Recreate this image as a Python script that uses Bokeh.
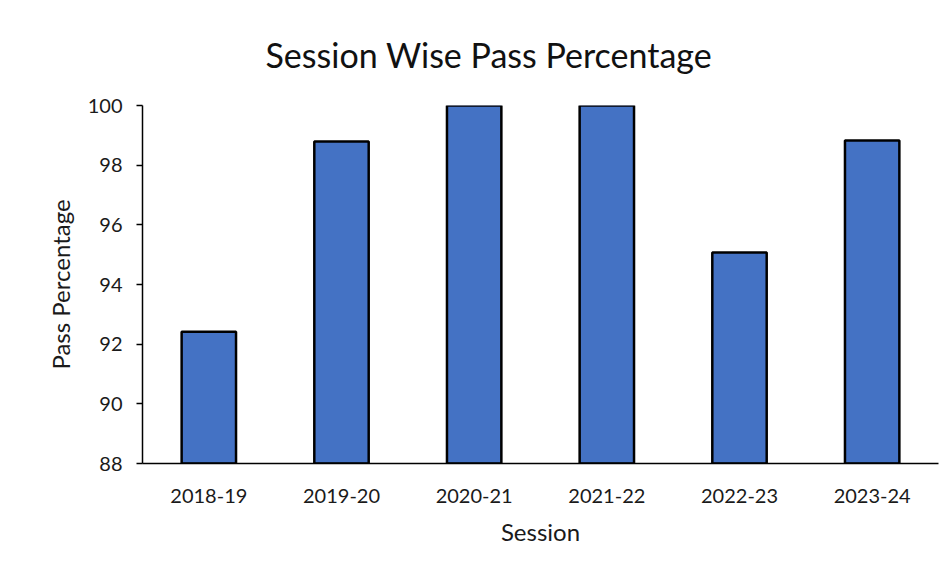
from bokeh.plotting import figure
from bokeh.models import Range1d, FixedTicker, ColumnDataSource
from bokeh.embed import file_html
from bokeh.resources import INLINE

sessions = ["2018-19", "2019-20", "2020-21", "2021-22", "2022-23", "2023-24"]
pass_pct = [92.42, 98.79, 100.0, 100.0, 95.07, 98.83]
y_ticks = [88, 90, 92, 94, 96, 98, 100]
title_text = "Session Wise Pass Percentage"

FONT = "Lato"
src = ColumnDataSource(dict(session=sessions, pct=pass_pct))

p = figure(x_range=sessions, y_range=Range1d(88, 100),
           width=943, height=563, output_backend="svg", toolbar_location=None,
           title=title_text,
           min_border_left=142, min_border_right=5, min_border_top=105, min_border_bottom=100)

p.vbar(x="session", top="pct", bottom=88, width=0.41, source=src,
       fill_color="#4472C4", line_color="black", line_width=2.5)

p.title.align = "left"
p.title.vertical_align = "top"
p.title.text_font = FONT
p.title.text_font_size = "34px"
p.title.text_font_style = "normal"
p.title.text_color = "#111111"
p.title.standoff = 58
p.title.offset = 123

p.outline_line_color = None
p.xgrid.grid_line_color = None
p.ygrid.grid_line_color = None
p.x_range.range_padding = 0

p.yaxis.ticker = FixedTicker(ticks=y_ticks)
p.yaxis.minor_tick_line_color = None
p.yaxis.major_tick_out = 6
p.yaxis.major_tick_in = 0
p.yaxis.major_tick_line_color = "black"
p.yaxis.major_tick_line_width = 1.5
p.yaxis.axis_line_color = "black"
p.yaxis.axis_line_width = 1.5
p.yaxis.major_label_standoff = 14
p.yaxis.axis_label = "Pass Percentage"
p.yaxis.axis_label_standoff = 10

p.xaxis.major_tick_line_color = None
p.xaxis.major_tick_out = 0
p.xaxis.major_tick_in = 0
p.xaxis.axis_line_color = "black"
p.xaxis.axis_line_width = 1.5
p.xaxis.major_label_standoff = 25
p.xaxis.axis_label = "Session"
p.xaxis.axis_label_standoff = 11

for ax in (p.xaxis, p.yaxis):
    ax.major_label_text_font = FONT
    ax.major_label_text_font_size = "20px"
    ax.major_label_text_color = "#1a1a1a"
    ax.axis_label_text_font = FONT
    ax.axis_label_text_font_size = "24px"
    ax.axis_label_text_font_style = "normal"
    ax.axis_label_text_color = "#1a1a1a"

open("out.html", "w").write(file_html(p, INLINE))
